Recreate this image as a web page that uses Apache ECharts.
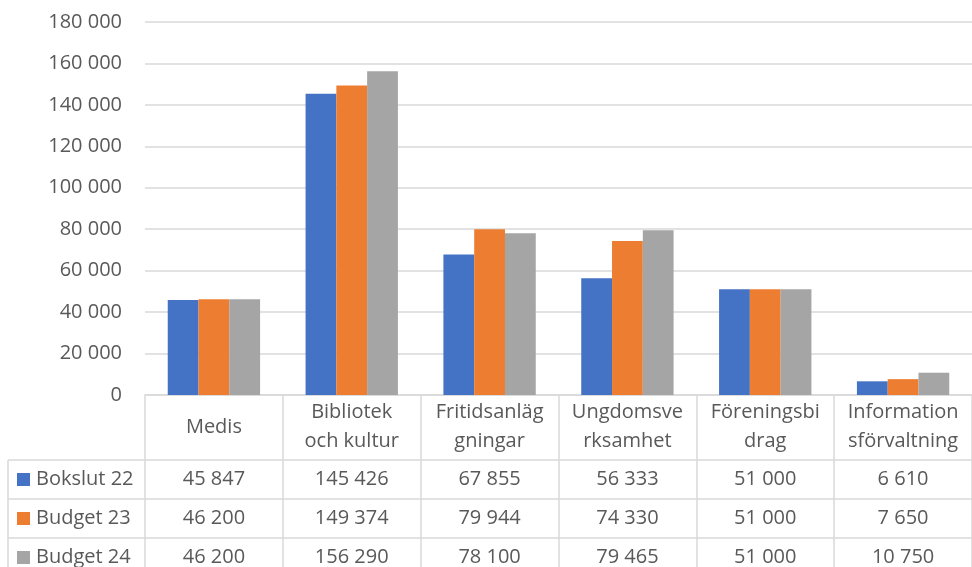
<!DOCTYPE html>
<html lang="sv">
<head>
    <meta charset="UTF-8">
    <title>Chart</title>
    <script src="https://cdn.jsdelivr.net/npm/echarts@6/dist/echarts.min.js"></script>
    <style>
        html, body { margin: 0; padding: 0; background: #fff; }
        #main { width: 972px; height: 567px; }
    </style>
</head>
<body>
    <div id="main"></div>
    <script type="text/javascript">
    // data
    var categories = ['Medis', 'Bibliotek\noch kultur', 'Fritidsanläg\ngningar', 'Ungdomsve\nrksamhet', 'Föreningsbi\ndrag', 'Information\nsförvaltning'];
    var seriesNames = ['Bokslut 22', 'Budget 23', 'Budget 24'];
    var bokslut22 = [45847, 145426, 67855, 56333, 51000, 6610];
    var budget23 = [46200, 149374, 79944, 74330, 51000, 7650];
    var budget24 = [46200, 156290, 78100, 79465, 51000, 10750];
    var colors = ['#4472C4', '#ED7D31', '#A5A5A5'];

    var font = 'Open Sans';
    var textColor = '#595959';
    var lineColor = '#d9d9d9';
    var fs = 20;

    function fmt(v) {
        return String(v).replace(/\B(?=(\d{3})+(?!\d))/g, ' ');
    }

    var chart = echarts.init(document.getElementById('main'));

    var allData = [bokslut22, budget23, budget24];
    var series = [];
    for (var s = 0; s < seriesNames.length; s++) {
        series.push({
            name: seriesNames[s],
            type: 'bar',
            data: allData[s],
            barGap: '0%',
            barCategoryGap: '33%',
            itemStyle: { color: colors[s] },
            silent: true
        });
    }

    var option = {
        animation: false,
        grid: { left: 145, top: 22, width: 840, height: 373 },
        xAxis: {
            type: 'category',
            data: categories,
            axisLine: { lineStyle: { color: lineColor, width: 1.5 } },
            axisTick: { show: true, interval: 0, length: 182, lineStyle: { color: lineColor, width: 1.5 } },
            axisLabel: {
                interval: 0,
                margin: 32,
                verticalAlign: 'middle',
                lineHeight: 29,
                fontFamily: font,
                fontSize: fs,
                color: textColor
            }
        },
        yAxis: {
            type: 'value',
            min: 0,
            max: 180000,
            interval: 20000,
            axisLine: { show: false },
            axisTick: { show: false },
            splitLine: { lineStyle: { color: lineColor, width: 1.5 } },
            axisLabel: {
                margin: 23,
                fontFamily: font,
                fontSize: fs,
                color: textColor,
                formatter: function (v) { return fmt(v); }
            }
        },
        series: series
    };
    chart.setOption(option);

    // data table under the axis
    var headerBottom = 460, rowH = 39, tableLeft = 8, tableRight = 985;
    var graphics = [];
    for (var r = 0; r < 3; r++) {
        var y = headerBottom + r * rowH;
        graphics.push({
            type: 'line', silent: true,
            shape: { x1: tableLeft, y1: y, x2: tableRight, y2: y },
            style: { stroke: lineColor, lineWidth: 1.5 }
        });
        graphics.push({
            type: 'rect', silent: true,
            shape: { x: 17, y: y + 13, width: 13, height: 13 },
            style: { fill: colors[r] }
        });
        graphics.push({
            type: 'text', silent: true,
            x: 36, y: y + rowH / 2,
            style: { text: seriesNames[r], fontFamily: font, fontSize: fs, fill: textColor, verticalAlign: 'middle', align: 'left' }
        });
        for (var c = 0; c < categories.length; c++) {
            var cx = chart.convertToPixel({ xAxisIndex: 0 }, c);
            graphics.push({
                type: 'text', silent: true,
                x: cx, y: y + rowH / 2,
                style: { text: fmt(allData[r][c]), fontFamily: font, fontSize: fs, fill: textColor, verticalAlign: 'middle', align: 'center' }
            });
        }
    }
    graphics.push({
        type: 'line', silent: true,
        shape: { x1: tableLeft, y1: headerBottom, x2: tableLeft, y2: 567 },
        style: { stroke: lineColor, lineWidth: 1.5 }
    });
    chart.setOption({ graphic: graphics });
    </script>
</body>
</html>
